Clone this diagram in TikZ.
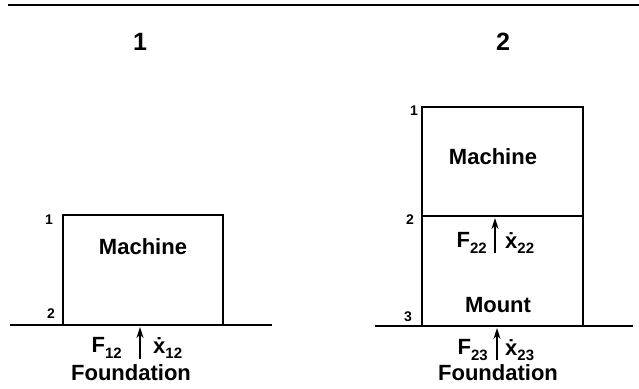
\documentclass[tikz,border=0pt]{standalone}
\usepackage{fontspec}
\setmainfont{Liberation Sans}
\usetikzlibrary{arrows.meta}
\newcommand{\xd}{ẋ}
\newcommand{\sbs}[1]{\raisebox{-0.25em}{\fontsize{15}{15}\selectfont #1}}
\tikzset{
  lw/.style={line width=1.8pt},
  lbl/.style={font=\fontsize{22}{22}\selectfont\bfseries, inner sep=0pt},
  num/.style={font=\fontsize{14}{14}\selectfont\bfseries, inner sep=0pt},
  big/.style={font=\fontsize{25}{25}\selectfont\bfseries, inner sep=0pt},
  arr/.style={line width=1.8pt, -{Stealth[length=11pt,width=7pt]}}
}
\begin{document}
\begin{tikzpicture}[x=1pt,y=-1pt]
\useasboundingbox (0,0) rectangle (639,388);
% top rule
\draw[lw] (8,5) -- (639,5);
\node[big] (t1) at (140,42) {1};
\node[big] (t2) at (503,42) {2};
% ---- case 1
\draw[lw] (10,325) -- (272,325);
\draw[lw] (63,325) -- (63,215) -- (223,215) -- (223,325);
\node[num] (a1) at (49,220) {1};
\node[num] (a2) at (51,314) {2};
\node[lbl] (m1) at (143,247) {Machine};
\coordinate (b1) at (140,359);
\coordinate (c1) at (140,327);
\draw[arr] (b1) -- (c1);
\node[lbl, anchor=east] (f12) at (122,348) {F\sbs{12}};
\node[lbl, anchor=west] (x12) at (153,348) {\xd\sbs{12}};
\node[lbl] (fd1) at (131,373) {Foundation};
% ---- case 2
\draw[lw] (375,326) -- (633,326);
\draw[lw] (422,326) -- (422,107) -- (583,107) -- (583,326);
\draw[lw] (422,216) -- (583,216);
\node[num] (b1l) at (414,111) {1};
\node[num] (b2l) at (410,220) {2};
\node[num] (b3l) at (408,317) {3};
\node[lbl] (m2) at (493,157) {Machine};
\node[lbl] (mt) at (498,305) {Mount};
\coordinate (p1) at (495,253);
\coordinate (q1) at (495,218);
\draw[arr] (p1) -- (q1);
\node[lbl, anchor=east] (f22) at (487,243) {F\sbs{22}};
\node[lbl, anchor=west] (x22) at (505,243) {\xd\sbs{22}};
\coordinate (p2) at (497,360);
\coordinate (q2) at (497,328);
\draw[arr] (p2) -- (q2);
\node[lbl, anchor=east] (f23) at (488,350) {F\sbs{23}};
\node[lbl, anchor=west] (x23) at (505,350) {\xd\sbs{23}};
\node[lbl] (fd2) at (498,373) {Foundation};
\end{tikzpicture}
\end{document}
